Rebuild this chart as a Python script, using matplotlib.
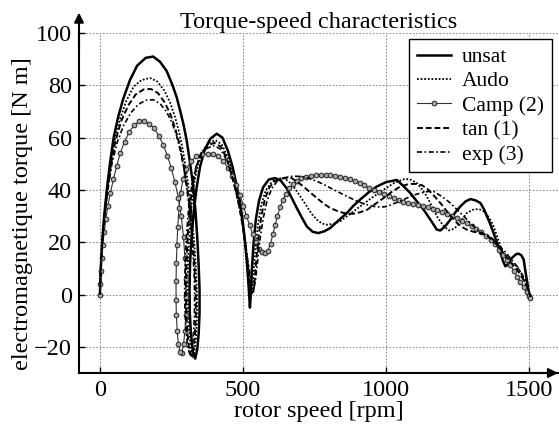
import matplotlib
matplotlib.use("Agg")
import matplotlib.pyplot as plt

plt.rcParams['font.family'] = ['Liberation Serif', 'DejaVu Serif']
plt.rcParams['font.size'] = 17

# ---- data (rotor speed [rpm], torque [N m]) ----
unsat_x = [0, 3, 8, 15, 24, 35, 48, 64, 82, 105, 130, 160, 186, 210, 233, 252, 268, 281, 292, 303, 314, 324, 333, 340, 345, 348, 348, 345, 340, 333, 325, 318, 314, 313, 315, 320, 328, 338, 350, 365, 385, 408, 428, 447, 463, 477, 490, 500, 508, 515, 520, 524, 527, 531, 537, 545, 556, 570, 590, 612, 632, 653, 672, 688, 705, 723, 743, 763, 784, 804, 833, 863, 886, 909, 938, 967, 1000, 1037, 1060, 1084, 1108, 1131, 1155, 1177, 1189, 1205, 1224, 1242, 1259, 1277, 1294, 1312, 1329, 1342, 1352, 1364, 1375, 1388, 1399, 1409, 1416, 1425, 1435, 1445, 1455, 1463, 1472, 1480, 1486, 1492, 1498, 1504]
unsat_y = [0, 10, 20, 30, 40, 50, 60, 68, 75, 82, 87.5, 90.5, 91, 89, 85.5, 80.5, 75.5, 70, 65, 59, 51, 43, 33, 22, 11, 2, -7, -15, -21, -24.5, -22, -15, -7, 2, 12, 22, 32, 41, 49, 55, 59.5, 61.5, 60, 55, 49, 42, 35, 27, 19, 10, 2, -5, 0, 10, 20, 29, 36, 41, 44, 44.5, 43.5, 40.5, 36.5, 33, 29.5, 26, 24, 23.5, 24.2, 25.4, 28.3, 31.2, 34, 36.3, 39, 41.3, 43, 43.8, 41.5, 38.8, 35.5, 32.4, 28.5, 24.8, 24.5, 26, 28.6, 31.5, 33.7, 35.6, 36.5, 36, 35, 32.5, 29.9, 26.8, 23.5, 19.5, 15.9, 12.5, 10.8, 11.5, 13.5, 14.6, 15.5, 15.6, 15, 13.4, 9, 5, 0.6, -1.9]

audo_x = [0, 3, 8, 15, 25, 37, 52, 70, 92, 118, 145, 175, 200, 225, 245, 262, 277, 290, 302, 313, 322, 330, 336, 339, 339, 336, 331, 325, 318, 312, 308, 306, 308, 313, 320, 330, 343, 360, 380, 403, 425, 445, 462, 477, 490, 501, 510, 518, 524, 530, 534, 538, 545, 554, 565, 580, 600, 620, 641, 660, 676, 700, 723, 740, 758, 775, 792, 815, 839, 870, 909, 950, 991, 1030, 1067, 1088, 1107, 1125, 1142, 1160, 1177, 1198, 1218, 1233, 1247, 1265, 1282, 1302, 1323, 1338, 1352, 1364, 1375, 1388, 1399, 1410, 1422, 1440, 1457, 1472, 1486, 1496, 1505]
audo_y = [0, 10, 20, 30, 40, 50, 59, 67, 74, 79.5, 82, 82.8, 81.5, 78, 73.5, 68, 62, 55, 47, 38, 29, 19, 9, 0, -8, -16, -21.5, -24, -21, -14, -6, 3, 13, 24, 34, 43, 50, 55, 58, 59, 57.5, 53, 47, 40, 33, 25, 17, 9, 3, 0, 3, 11, 20, 28, 35, 40, 43, 44.3, 44.5, 43.2, 41.3, 37.5, 33.7, 30.8, 28.6, 27.2, 26.7, 27, 28, 30.5, 33.7, 37, 40.1, 42.8, 44.3, 43.8, 42.6, 40.3, 37.5, 33.7, 29.9, 26.5, 24.5, 25, 26.1, 28.8, 31.2, 32.4, 32.7, 32, 30.5, 28.5, 26.1, 22, 18.4, 15.5, 13.4, 11.8, 10.8, 8, 4.5, 1.5, -1.5]

camp_x = [0, 1, 3, 6, 10, 15, 21, 28, 37, 47, 58, 71, 86, 102, 120, 138, 155, 172, 190, 207, 222, 236, 249, 262, 274, 284, 292, 297, 300, 301, 300, 297, 292, 286, 280, 274, 270, 267, 266, 266, 267, 269, 272, 276, 282, 290, 302, 318, 337, 357, 377, 396, 414, 431, 447, 462, 476, 489, 501, 512, 523, 534, 545, 556, 567, 577, 587, 596, 604, 612, 620, 629, 639, 650, 662, 675, 689, 704, 720, 737, 754, 771, 788, 805, 822, 839, 856, 873, 890, 907, 924, 941, 958, 975, 992, 1009, 1026, 1043, 1060, 1077, 1094, 1111, 1128, 1145, 1162, 1179, 1196, 1213, 1230, 1247, 1264, 1281, 1298, 1315, 1332, 1349, 1365, 1380, 1394, 1408, 1421, 1434, 1446, 1458, 1469, 1480, 1490, 1498, 1503]
camp_y = [0, 4, 9, 14, 19, 24, 29, 34, 39, 44, 49, 54, 58.5, 62, 64.8, 66.2, 66.4, 65.3, 63.5, 60.5, 57, 53, 48.5, 43, 37, 30, 22, 14, 6, -1, -8, -14, -19, -22.3, -22, -19, -14, -8, -2, 5, 12, 19, 26, 33, 39, 44, 48, 51, 52.8, 53.6, 53.9, 53.8, 52.8, 51, 48.5, 45.5, 42, 38, 34, 30, 26.5, 23, 20, 17.5, 16.2, 15.8, 16.8, 19.5, 23, 26.5, 30, 33.3, 36.2, 38.6, 40.6, 42.2, 43.5, 44.4, 45, 45.4, 45.6, 45.7, 45.7, 45.6, 45.4, 45.1, 44.6, 44, 43.3, 42.5, 41.7, 40.8, 40, 39.2, 38.4, 37.6, 36.8, 36.1, 35.5, 35, 34.6, 34.2, 33.8, 33.3, 32.8, 32.2, 31.5, 30.7, 29.9, 29.1, 28.2, 27.2, 26.1, 25, 23.8, 22.5, 21, 19.2, 17.2, 15.2, 13.2, 11.2, 9, 6.8, 4.7, 2.8, 1, -0.5, -1.5]

tan_x = [0, 3, 8, 16, 26, 39, 55, 75, 100, 125, 152, 178, 203, 226, 246, 263, 278, 291, 302, 312, 320, 327, 332, 335, 335, 332, 327, 320, 312, 306, 302, 300, 302, 307, 314, 324, 337, 354, 375, 400, 423, 443, 460, 475, 488, 499, 508, 516, 523, 529, 535, 540, 546, 554, 564, 576, 592, 612, 640, 670, 690, 711, 735, 758, 781, 804, 828, 851, 868, 886, 910, 933, 960, 991, 1020, 1049, 1080, 1105, 1125, 1145, 1165, 1189, 1218, 1247, 1265, 1282, 1305, 1329, 1346, 1364, 1387, 1410, 1433, 1457, 1475, 1492, 1505]
tan_y = [0, 10, 20, 30, 40, 50, 59, 66.5, 72.5, 76.5, 78.4, 78.6, 77, 73.5, 69, 63.5, 57.5, 50.5, 43, 35, 26, 17, 8, 0, -8, -15, -20.5, -23.5, -21, -15, -7, 2, 12, 23, 33, 42, 49, 54, 57, 58, 56.5, 52, 46, 39.5, 33, 26, 19, 12, 6, 1, 0, 5, 13, 22, 30, 36.5, 41, 43.5, 44.5, 44.5, 43, 41.3, 39, 36.9, 34.8, 33.1, 32, 31.2, 30.9, 30.9, 31.5, 32.4, 34.5, 36.9, 39.3, 41.3, 42.3, 42.3, 41.8, 40.3, 38, 35, 31, 27.4, 25.8, 24.8, 24, 23.5, 22.8, 21.6, 19, 15.9, 12.7, 9.5, 6.5, 3.2, -1]

exp_x = [0, 3, 9, 17, 28, 42, 60, 82, 108, 135, 162, 186, 210, 232, 251, 267, 281, 293, 303, 312, 319, 325, 329, 331, 330, 327, 322, 315, 307, 301, 297, 296, 298, 303, 311, 322, 336, 354, 375, 400, 422, 442, 459, 474, 487, 498, 508, 516, 524, 531, 537, 543, 550, 559, 570, 584, 600, 620, 645, 672, 699, 728, 758, 787, 816, 851, 886, 921, 956, 980, 1003, 1032, 1061, 1090, 1120, 1145, 1166, 1190, 1205, 1224, 1247, 1271, 1294, 1317, 1340, 1364, 1387, 1410, 1433, 1457, 1475, 1492, 1505]
exp_y = [0, 10, 20, 30, 40, 50, 58, 64.5, 69.5, 72.8, 74.3, 74.5, 73, 70, 66, 61, 55, 48.5, 41, 33, 25, 16, 8, 0, -8, -15, -20, -23, -20.5, -14, -6, 3, 13, 24, 34, 42.5, 49, 53.5, 56, 57, 55.5, 51.5, 46, 40, 33.5, 27, 20, 13.5, 8, 4, 2, 5, 12, 21, 29, 36, 40.5, 43.5, 44.7, 45.2, 45.2, 44.5, 43.3, 41.8, 40.1, 38.2, 36.3, 34.7, 33.7, 33.4, 33.7, 35, 36.3, 37.8, 38.8, 39.4, 39.4, 37.8, 36.6, 35, 32.5, 29.9, 27.3, 24.8, 23.3, 22, 19.5, 17, 14, 10.8, 7.6, 4.5, -1]

x_ticks = [0, 500, 1000, 1500]
y_ticks = [-20, 0, 20, 40, 60, 80, 100]

W, H = 559, 429
fig = plt.figure(figsize=(W / 100, H / 100), dpi=100)
ax_l, ax_r, ax_t, ax_b = 79, 558, 33, 373
ax = fig.add_axes([ax_l / W, (H - ax_b) / H, (ax_r - ax_l) / W, (ax_b - ax_t) / H])

ax.plot(unsat_x, unsat_y, color='black', lw=1.8, ls='-', label='unsat')
ax.plot(audo_x, audo_y, color='black', lw=1.3, ls=(0, (1, 1)), label='Audo')
ax.plot(camp_x, camp_y, color='#333333', lw=0.8, ls='-', marker='o', ms=3.4,
        mfc='#a8a8a8', mec='#222222', mew=0.7, label='Camp (2)')
ax.plot(tan_x, tan_y, color='black', lw=1.4, ls=(0, (3, 1.5)), label='tan (1)')
ax.plot(exp_x, exp_y, color='black', lw=1.2, ls=(0, (3, 1.5, 1, 1.5)), label='exp (3)')

ax.set_xlim(-73, 1600)
ax.set_ylim(-30, 100)
ax.set_xticks(x_ticks)
ax.set_yticks(y_ticks)
ax.grid(True, ls=(0, (2, 2)), color='#777777', lw=0.6)
ax.set_axisbelow(True)

for s in ['top', 'right']:
    ax.spines[s].set_visible(False)
for s in ['left', 'bottom']:
    ax.spines[s].set_linewidth(1.5)
ax.tick_params(direction='in', length=4, width=1, labelsize=17.5, pad=5)

# arrow heads
ax.annotate('', xy=(0, 1.06), xytext=(0, 0.95), xycoords='axes fraction',
            arrowprops=dict(arrowstyle='-|>', color='black', lw=1.5,
                            mutation_scale=14, shrinkA=0, shrinkB=0), annotation_clip=False)
ax.annotate('', xy=(1.0, 0), xytext=(0.95, 0), xycoords='axes fraction',
            arrowprops=dict(arrowstyle='-|>', color='black', lw=1.5,
                            mutation_scale=14, shrinkA=0, shrinkB=0), annotation_clip=False)

ax.set_xlabel('rotor speed [rpm]', fontsize=17.5, labelpad=0)
ax.set_ylabel('electromagnetique torque [N m]', fontsize=17.5)
ax.yaxis.set_label_coords(-0.095, 0.47)
ax.set_title('Torque-speed characteristics', fontsize=17.5, pad=3)

leg = ax.legend(loc='upper right', bbox_to_anchor=(1.0, 1.0), borderaxespad=0.3,
                fontsize=15.5, frameon=True, fancybox=False, framealpha=1,
                edgecolor='black', handlelength=1.6, handletextpad=0.5,
                labelspacing=0.2, borderpad=0.35, numpoints=1)
leg.get_frame().set_linewidth(1.0)

fig.savefig('out.png', dpi=100)
